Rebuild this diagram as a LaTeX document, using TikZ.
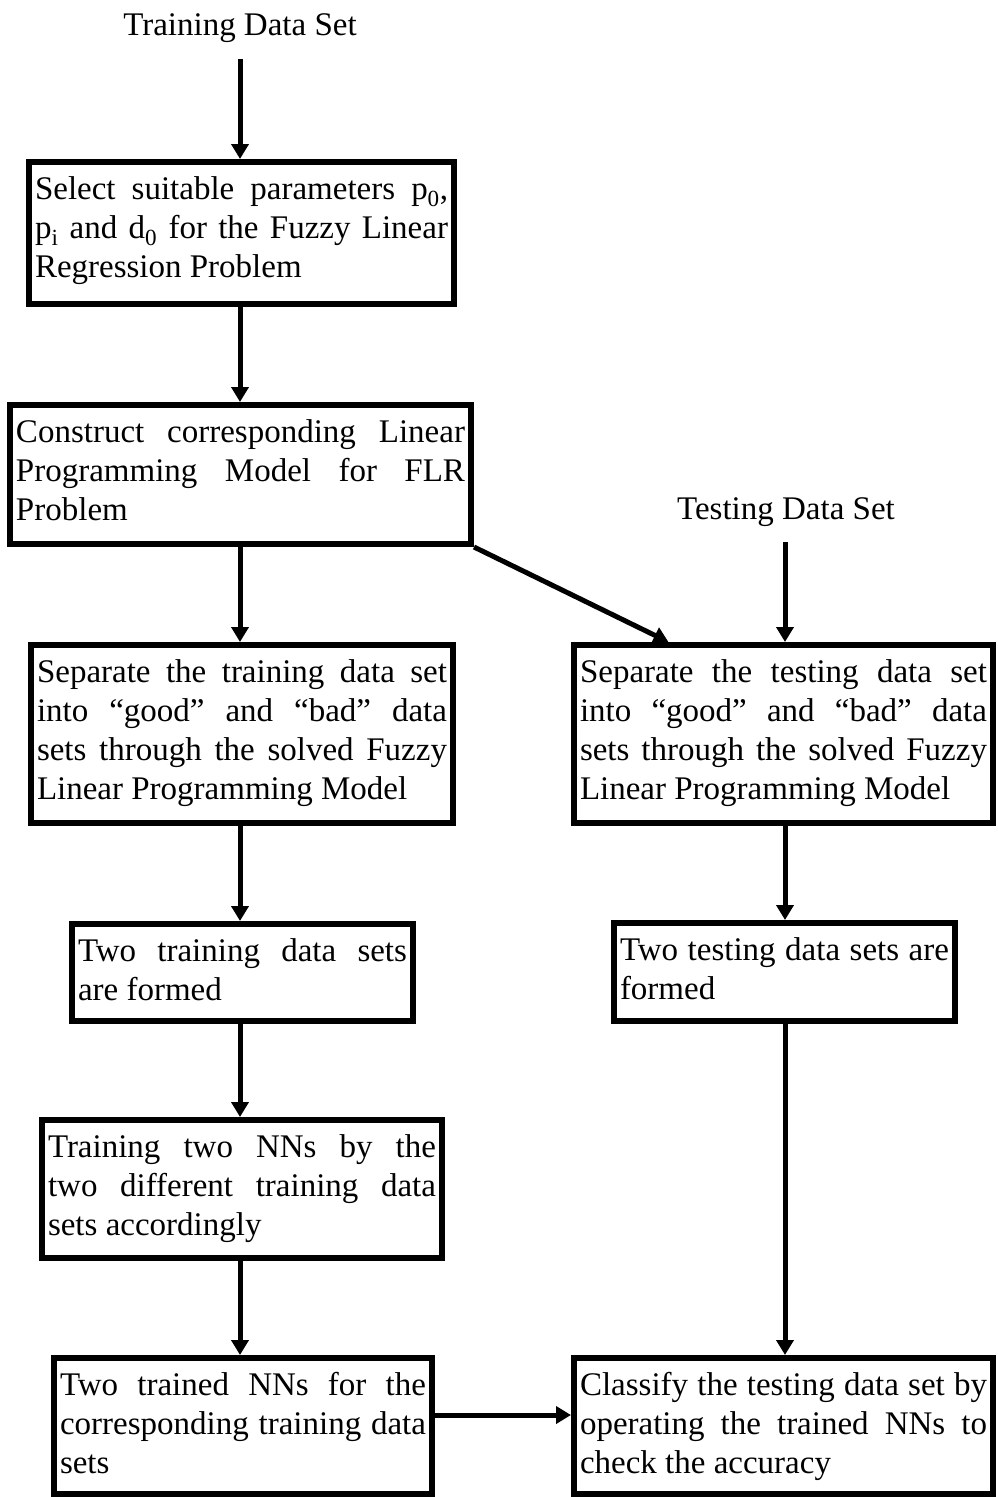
\documentclass[tikz,border=0pt]{standalone}
\usepackage{fontspec}
\setmainfont{Liberation Serif}
\usetikzlibrary{arrows.meta}
\newcommand\jl[1]{\noindent\makebox[\linewidth][s]{#1}\par}
\newcommand\lastln[1]{\noindent #1\par}
\tikzset{
  box/.style={draw, line width=6pt, inner xsep=6pt, inner ysep=0pt, anchor=north west},
  arr/.style={line width=5pt, -{Triangle[width=17pt,length=15pt]}},
  lbl/.style={inner sep=0pt, anchor=base, font=\fontsize{33}{39}\selectfont}
}
\newcommand\boxnode[6]{%
  \node[box, minimum width=#4pt, minimum height=#5pt] (#1) at (#2,#3)
  {\parbox[c][#5pt][t]{\dimexpr#4pt-12pt\relax}{\fontsize{33}{39}\selectfont\noindent\rule{0pt}{37.5pt}#6}};}
\begin{document}
\begin{tikzpicture}[x=1pt,y=-1pt]
\useasboundingbox (0,0) rectangle (997,1497);
\coordinate (colL) at (240,0);
\coordinate (colR) at (785,0);
\node[lbl] (lbl1) at (240,35) {Training Data Set};
\node[lbl] (lbl2) at (786,519) {Testing Data Set};

\boxnode{b1}{26}{159}{425}{142}{%
\jl{Select suitable parameters p\textsubscript{0},}
\jl{p\textsubscript{i} and d\textsubscript{0} for the Fuzzy Linear}
\lastln{Regression Problem}}

\boxnode{b2}{7}{402}{461}{139}{%
\jl{Construct corresponding Linear}
\jl{Programming Model for FLR}
\lastln{Problem}}

\boxnode{b3}{28}{642}{422}{178}{%
\jl{Separate the training data set}
\jl{into “good” and “bad” data}
\jl{sets through the solved Fuzzy}
\lastln{Linear Programming Model}}

\boxnode{b4}{571}{642}{419}{178}{%
\jl{Separate the testing data set}
\jl{into “good” and “bad” data}
\jl{sets through the solved Fuzzy}
\lastln{Linear Programming Model}}

\boxnode{b5}{69}{921}{341}{97}{%
\jl{Two training data sets}
\lastln{are formed}}

\boxnode{b6}{611}{920}{341}{98}{%
\jl{Two testing data sets are}
\lastln{formed}}

\boxnode{b7}{39}{1117}{400}{138}{%
\jl{Training two NNs by the}
\jl{two different training data}
\lastln{sets accordingly}}

\boxnode{b8}{51}{1355}{378}{136}{%
\jl{Two trained NNs for the}
\jl{corresponding training data}
\lastln{sets}}

\boxnode{b9}{571}{1355}{419}{136}{%
\jl{Classify the testing data set by}
\jl{operating the trained NNs to}
\lastln{check the accuracy}}

\draw[arr, shorten <=17pt] (lbl1.south) -- (b1.north -| colL);
\draw[arr] (b1.south -| colL) -- (b2.north -| colL);
\draw[arr] (b2.south -| colL) -- (b3.north -| colL);
\draw[arr] (b2.south east) -- ([xshift=-115pt]b4.north);
\draw[arr, shorten <=16pt] (lbl2.south -| colR) -- (b4.north -| colR);
\draw[arr] (b3.south -| colL) -- (b5.north -| colL);
\draw[arr] (b4.south -| colR) -- (b6.north -| colR);
\draw[arr] (b5.south -| colL) -- (b7.north -| colL);
\draw[arr] (b7.south -| colL) -- (b8.north -| colL);
\draw[arr] (b6.south -| colR) -- (b9.north -| colR);
\draw[arr] ([yshift=11pt]b8.east) -- ([yshift=11pt]b9.west);
\end{tikzpicture}
\end{document}
